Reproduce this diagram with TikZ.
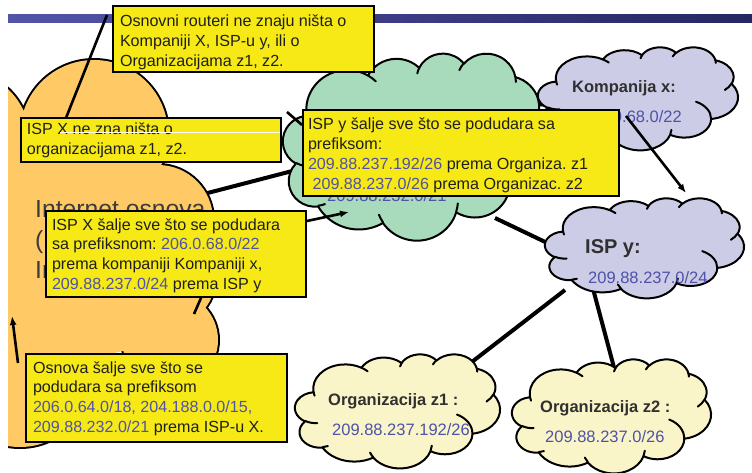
\documentclass[tikz,border=0pt]{standalone}
\usepackage{fontspec}
\setmainfont{Liberation Sans}
\usetikzlibrary{arrows.meta}
\frenchspacing

\definecolor{boxyellow}{RGB}{246,233,22}
\definecolor{netorange}{RGB}{255,201,102}
\definecolor{ispgreen}{RGB}{168,218,188}
\definecolor{lavender}{RGB}{204,204,230}
\definecolor{cream}{RGB}{250,245,200}
\definecolor{prefixblue}{RGB}{78,82,168}
\definecolor{labelgray}{RGB}{48,48,48}
\definecolor{bigtext}{RGB}{60,60,60}
\definecolor{barleft}{RGB}{82,84,168}
\definecolor{barright}{RGB}{38,38,98}

\newcommand\pfx[1]{\textcolor{prefixblue}{#1}}
\newcommand\firstline[1]{\rule{0pt}{#1pt}}

% Cloud outline: start angle / sweep (degrees, as seen on the ellipse),
% horizontal / vertical radius in percent of the cloud's box.
\def\cloudouter{-190.4875/123.7805/15.632/21.273,-144.1024/89.9452/12.345/16.822,-145.8079/99.7230/10.104/13.762,-130.9861/117.2417/11.243/15.266,-78.7089/109.0269/12.345/16.836,-46.2673/130.2690/15.683/21.343,0.6250/114.0333/13.391/18.211,22.4516/115.1726/15.630/21.331,66.2426/75.7110/17.870/24.405,-274.9421/146.7356/10.093/13.699,-246.8285/152.5189/10.058/13.762}
% Inner creases: start point (percent), start angle / sweep, radii (percent).
\def\cloudinner{10.8634/60.5949/86.7420/26.4295/10.058/13.762,16.0370/80.7847/73.6105/11.4475/10.093/13.699,38.1435/90.4861/137.6242/14.0811/15.630/21.331,66.7292/80.4421/6.4533/15.9984/15.630/21.331,79.0023/53.1343/-70.2924/70.9174/13.391/18.211,96.7546/35.5417/30.3180/27.7515/12.345/16.836,88.7130/12.5602/-13.7443/14.8589/11.243/15.266,67.3102/9.1481/-149.1815/18.1954/11.243/15.266,51.2523/10.9259/-163.4943/17.6864/10.104/13.762,32.4074/12.0185/-66.7070/12.3194/15.632/21.273,9.5532/36.5486/157.6544/11.8582/15.632/21.273}

% \pptcloud{left}{top}{width}{height}{fill colour}
\newcommand\pptcloud[5]{%
  \path[cloudline, fill=#5] ({#1+9.0278*(#3/100)},{-(#2+33.2639*(#4/100))})
    \foreach \st/\sw/\wr/\hr [evaluate=\st as \ta using {atan2(\wr*sin(\st),\hr*cos(\st))},
                              evaluate=\st as \tb using {atan2(\wr*sin(\st+\sw),\hr*cos(\st+\sw))},
                              evaluate=\st as \dd using {mod((\tb)-(\ta)+720,360)}] in \cloudouter
      { arc[start angle={-(\ta)}, delta angle={-(\dd)}, x radius={\wr*(#3/100)}, y radius={\hr*(#4/100)}] }
    -- cycle;
  \foreach \px/\py/\st/\sw/\wr/\hr [evaluate=\st as \ta using {atan2(\wr*sin(\st),\hr*cos(\st))},
                                    evaluate=\st as \tb using {atan2(\wr*sin(\st+\sw),\hr*cos(\st+\sw))},
                                    evaluate=\st as \dd using {mod((\tb)-(\ta)+720,360)}] in \cloudinner
    { \draw[cloudline] ({#1+\px*(#3/100)},{-(#2+\py*(#4/100))})
        arc[start angle={-(\ta)}, delta angle={-(\dd)}, x radius={\wr*(#3/100)}, y radius={\hr*(#4/100)}]; }
}

\begin{document}
\begin{tikzpicture}[x=1pt,y=1pt,
  cloudline/.style={draw=black, line width=2pt, line join=round, line cap=round},
  link/.style={line width=4pt, draw=black},
  pointer/.style={line width=2.6pt, draw=black},
  arrowed/.style={pointer, -{Latex[length=9pt,width=7pt]}},
  notebox/.style={draw=black, line width=2.4pt, fill=boxyellow, anchor=north west,
    inner sep=0pt, outer sep=0pt},
  notetext/.style={anchor=north west, align=left, inner sep=0pt, outer sep=0pt,
    font=\fontsize{16.1}{19.8}\selectfont, text=black!88},
  cloudlabel/.style={anchor=base west, inner sep=0pt, text=labelgray,
    font=\bfseries\fontsize{16.5}{20}\selectfont},
  cloudprefix/.style={anchor=base west, inner sep=0pt, text=prefixblue,
    font=\fontsize{16.5}{20}\selectfont},
]
\useasboundingbox (0,0) rectangle (752,-473);
\fill[white] (0,0) rectangle (752,-473);

% title bar
\shade[left color=barleft, right color=barright] (8,-15) rectangle (752,-23);

% links between the networks (drawn first, the clouds cover their ends)
\coordinate (o1) at (200,-195);
\coordinate (g1) at (300,-169);
\coordinate (g2) at (480,-106);
\coordinate (k1) at (560,-104);
\coordinate (g3) at (495,-218);
\coordinate (y1) at (562,-250);
\coordinate (y2) at (565,-290);
\coordinate (z1) at (455,-375);
\coordinate (y3) at (592,-285);
\coordinate (z2) at (616,-375);
\draw[link] (o1) -- (g1);
\draw[link] (g2) -- (k1);
\draw[link] (g3) -- (y1);
\draw[link] (y2) -- (z1);
\draw[link] (y3) -- (z2);

% backbone cloud, cut at the left margin
\def\orangebumps{-40/140/70,94/134/74,158/220/55,170/280/45,170/340/48,20/375/72}
\begin{scope}
  \clip (8,0) rectangle (752,-473);
  \draw[line width=4pt] \foreach \x/\y/\r in \orangebumps { (\x,-\y) circle[radius=\r] };
  \fill[netorange] \foreach \x/\y/\r in \orangebumps { (\x,-\y) circle[radius=\r] };
  \fill[netorange] (-40,-140) -- (94,-134) -- (158,-220) -- (170,-280) -- (170,-340) -- (20,-375) -- (-40,-375) -- cycle;
  \node[anchor=base west, inner sep=0pt, text=bigtext, font=\fontsize{24.7}{30}\selectfont] (bb1) at (35,-218) {Internet osnova};
  \node[anchor=base west, inner sep=0pt, text=bigtext, font=\fontsize{24.7}{30}\selectfont] (bb2) at (35,-248) {(};
  \node[anchor=base west, inner sep=0pt, text=bigtext, font=\fontsize{24.7}{30}\selectfont] (bb3) at (35,-278) {In};
\end{scope}

% provider and customer clouds
\pptcloud{283}{53}{262}{187}{ispgreen}
\pptcloud{538}{47}{200}{103}{lavender}
\pptcloud{545}{198}{199}{100}{lavender}
\pptcloud{295}{354}{205}{114}{cream}
\pptcloud{512}{359}{199}{114}{cream}

\node[cloudprefix] (gx) at (327,-201) {209.88.232.0/21};
\node[cloudlabel] (kx) at (572,-93) {Kompanija x:};
\node[cloudprefix, anchor=base east] (kxp) at (682,-123) {206.0.68.0/22};
\node[cloudlabel, font=\bfseries\fontsize{20}{24}\selectfont] (iy) at (585,-253) {ISP y:};
\node[cloudprefix] (iyp) at (588,-283) {209.88.237.0/24};
\node[cloudlabel] (oz1) at (328,-405) {Organizacija z1 :};
\node[cloudprefix] (oz1p) at (332,-435) {209.88.237.192/26};
\node[cloudlabel] (oz2) at (540,-412) {Organizacija z2 :};
\node[cloudprefix] (oz2p) at (545,-442) {209.88.237.0/26};

% pointer of the first note (runs under the notes)
\coordinate (p1a) at (107,-15);
\coordinate (p1b) at (58,-138);
\draw[pointer] (p1a) -- (p1b);

% notes: yellow boxes, then their text
\node[notebox, minimum width=260.6pt, minimum height=65.6pt] (b1) at (113.2,-6.2) {};
\node[notetext] (t1) at (120,-5)
  {\firstline{22}Osnovni routeri ne znaju ništa o\\Kompaniji X, ISP-u y, ili o\\Organizacijama z1, z2.};
\node[notebox, minimum width=259.6pt, minimum height=43.6pt] (b2) at (21.2,-118.2) {};
\node[notetext] (t2) at (27,-117)
  {\firstline{18}ISP X ne zna ništa o\\organizacijama z1, z2.};
\draw[white, line width=0.8pt] (60,-132) -- (280,-132);
\node[notebox, minimum width=259.6pt, minimum height=85.6pt] (b3) at (46.2,-211.2) {};
\node[notetext] (t3) at (52,-210)
  {\firstline{20}ISP X šalje sve što se podudara\\sa prefiksnom: \pfx{206.0.68.0/22}\\prema kompaniji Kompaniji x,\\\pfx{209.88.237.0/24} prema ISP y};
\node[notebox, minimum width=315.6pt, minimum height=85.6pt] (b4) at (303.2,-110.2) {};
\node[notetext] (t4) at (308,-109)
  {\firstline{21}ISP y šalje sve što se podudara sa\\prefiksom:\\\pfx{209.88.237.192/26} prema Organiza. z1\\\hspace*{4.6pt}\pfx{209.88.237.0/26} prema Organizac. z2};
\node[notebox, minimum width=260.6pt, minimum height=87.6pt] (b5) at (26.2,-354.2) {};
\node[notetext] (t5) at (33,-353)
  {\firstline{20}Osnova šalje sve što se\\podudara sa prefiksom\\\pfx{206.0.64.0/18, 204.188.0.0/15,}\\\pfx{209.88.232.0/21} prema ISP-u X.};

% arrows and short pointers from the notes
\coordinate (a2a) at (307,-221);
\coordinate (a2b) at (349,-212);
\draw[arrowed] (a2a) -- (a2b);
\coordinate (a3a) at (18,-363);
\coordinate (a3b) at (12,-316);
\draw[arrowed] (a3a) -- (a3b);
\coordinate (a4a) at (626,-116);
\coordinate (a4b) at (686,-193);
\draw[arrowed] (a4a) -- (a4b);
\coordinate (p5a) at (201,-298);
\coordinate (p5b) at (194,-314);
\draw[pointer] (p5a) -- (p5b);
\coordinate (p6a) at (302,-125);
\coordinate (p6b) at (287,-112);
\draw[pointer] (p6a) -- (p6b);
\end{tikzpicture}
\end{document}
